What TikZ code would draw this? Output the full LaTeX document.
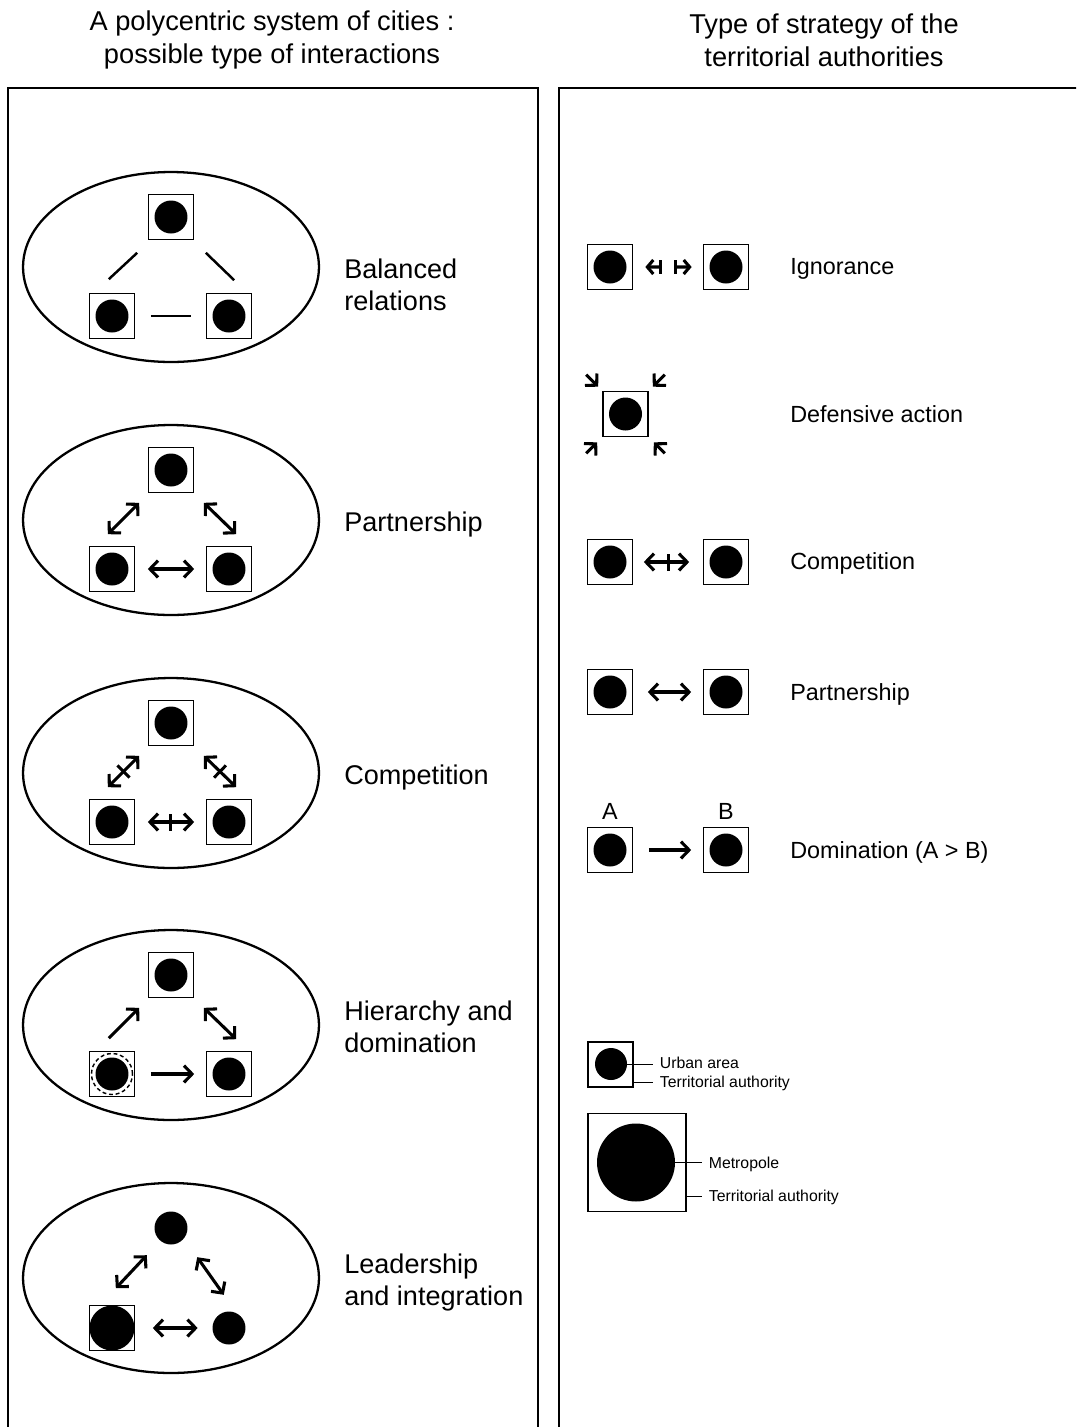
\documentclass[tikz,border=0pt]{standalone}
\usepackage{fontspec}
\setmainfont{Liberation Sans}
\usepackage{tikz}
\usetikzlibrary{arrows.meta, positioning, shapes.geometric, calc}

\newcommand{\titlefont}{\fontsize{15.5}{18.7}\selectfont}
\newcommand{\labelfont}{\fontsize{15.4}{18.2}\selectfont}
\newcommand{\rowfont}{\fontsize{13.3}{16}\selectfont}
\newcommand{\keyfont}{\fontsize{9}{11}\selectfont}

\begin{document}
\begin{tikzpicture}[x=0.02cm, y=-0.02cm,
    >={Straight Barb[length=4.6pt, width=9.6pt]},
    panel/.style={line width=0.8pt},
    region/.style={ellipse, draw, line width=1.3pt, minimum width=5.92cm,
      minimum height=3.8cm, inner sep=0pt},
    ta/.style={draw, line width=0.95pt, minimum size=0.9cm, inner sep=0pt},
    ua/.style={circle, fill, minimum size=0.66cm, inner sep=0pt},
    link/.style={line width=1.75pt},
    crossbar/.style={sloped, fill, inner sep=0pt, minimum width=1.7pt,
      minimum height=0.34cm},
    head/.style={font=\titlefont, align=center},
    lbl/.style={font=\labelfont, align=left, inner sep=0pt},
    rlbl/.style={font=\rowfont, inner sep=0pt, anchor=base west},
    key/.style={font=\keyfont, inner xsep=0.13cm, inner ysep=0pt,
      text height=6.5pt, text depth=0pt, anchor=west}]
        \useasboundingbox (0,0) rectangle (1076,1427);
        \clip (0,0) rectangle (1076,1427);
        % Headings
        \node[head] (h1) at (272,40)
          {A polycentric system of cities :\\possible type of interactions};
        \node[head] (h2) at (824,40)
          {Type of strategy of the\\territorial authorities};
        % Panels (open at the bottom)
        \draw[panel] (8,1440) |- (538,88) -- (538,1440);
        \draw[panel] (559,1440) |- (1090,88);

        % Systems of three cities
        \foreach \i/\y in {1/267, 2/520, 3/773, 4/1025} {
          \node[region] (e\i) at (171,\y) {};
          \node[ta] (t\i) at (171,\y-50) {};
          \node[ta] (l\i) at (112,\y+49) {};
          \node[ta] (r\i) at (229,\y+49) {};
          \node[ua] (tc\i) at (t\i) {};
          \node[ua] (lc\i) at (l\i) {};
          \node[ua] (rc\i) at (r\i) {};
        }
        % Balanced relations
        \draw[link, line width=1.4pt] ([shift={(-26.5,-13.5)}]l1.north east)
          -- ([shift={(-10.5,12.5)}]t1.south west);
        \draw[link, line width=1.4pt] ([shift={(11.5,12.5)}]t1.south east)
          -- ([shift={(28.5,-12.5)}]r1.north west);
        \draw[link, line width=1.4pt, shorten <=0.31cm, shorten >=0.29cm] (l1) -- (r1);
        \node[lbl, anchor=west] (n1) at (344,285) {Balanced\\relations};
        % Partnership
        \draw[link, <->] ([shift={(-27.5,-11.5)}]l2.north east)
          -- ([shift={(-8.5,9.5)}]t2.south west);
        \draw[link, <->] ([shift={(9.5,9.5)}]t2.south east)
          -- ([shift={(30.5,-11.5)}]r2.north west);
        \draw[link, <->, shorten <=0.25cm, shorten >=0.23cm] (l2) -- (r2);
        \node[lbl, anchor=base west] (n2) at (344,531) {Partnership};
        % Competition
        \draw[link, <->] ([shift={(-27.5,-11.5)}]l3.north east)
          -- node[crossbar] (x3l) {} ([shift={(-8.5,9.5)}]t3.south west);
        \draw[link, <->] ([shift={(9.5,9.5)}]t3.south east)
          -- node[crossbar] (x3r) {} ([shift={(30.5,-11.5)}]r3.north west);
        \draw[link, <->, shorten <=0.25cm, shorten >=0.23cm] (l3)
          -- node[crossbar] (x3h) {} (r3);
        \node[lbl, anchor=base west] (n3) at (344,784) {Competition};
        % Hierarchy and domination
        \node[circle, draw, line width=0.8pt, dash pattern=on 2.2pt off 1.6pt,
          minimum size=0.82cm, inner sep=0pt] (lr4) at (l4) {};
        \draw[link, ->] ([shift={(-26.5,-12.5)}]l4.north east)
          -- ([shift={(-8.5,9.5)}]t4.south west);
        \draw[link, <->] ([shift={(9.5,9.5)}]t4.south east)
          -- ([shift={(30.5,-11.5)}]r4.north west);
        \draw[link, ->, shorten <=0.31cm, shorten >=0.23cm] (l4) -- (r4);
        \node[lbl, anchor=west] (n4) at (344,1027) {Hierarchy and\\domination};
        % Leadership and integration
        \node[region] (e5) at (171,1278) {};
        \node[ua] (tc5) at (171,1228) {};
        \node[ta] (l5) at (112,1328) {};
        \node[ua, minimum size=0.9cm] (lc5) at (l5) {};
        \node[ua] (rc5) at (229,1328) {};
        \draw[link, <->] ([shift={(-19.5,-16.5)}]l5.north east)
          -- ([shift={(-12.3,15.3)}]tc5.south west);
        \draw[link, <->] ([shift={(14.3,17.3)}]tc5.south east)
          -- ([shift={(6.7,-21.3)}]rc5.north west);
        \draw[link, <->, shorten <=0.35cm, shorten >=0.29cm] (l5) -- (rc5);
        \node[lbl, anchor=west] (n5) at (344,1282) {Leadership\\and integration};

        % Ignorance
        \node[ta] (i1) at (610,267) {};
        \node[ta] (i2) at (726,267) {};
        \node[ua] (ic1) at (i1) {};
        \node[ua] (ic2) at (i2) {};
        \coordinate (ig) at ($(i1)!0.5!(i2)$);
        \draw[link, {Straight Barb[length=3.4pt, width=8pt]}-{Bar[width=0.27cm]},
          shorten <=0.24cm, shorten >=0.12cm] (i1.east) -- (ig);
        \draw[link, {Bar[width=0.27cm]}-{Straight Barb[length=3.4pt, width=8pt]},
          shorten <=0.12cm, shorten >=0.22cm] (ig) -- (i2.west);
        \node[rlbl] (s1) at (790,274.5) {Ignorance};
        % Defensive action
        \node[ta] (d1) at (625.5,414) {};
        \node[ua] (dc1) at (d1) {};
        \draw[link, ->] ([shift={(-16,-16)}]d1.north west)
          -- ([shift={(-4,-4)}]d1.north west);
        \draw[link, ->] ([shift={(16,-16)}]d1.north east)
          -- ([shift={(4,-4)}]d1.north east);
        \draw[link, ->] ([shift={(-16,16)}]d1.south west)
          -- ([shift={(-5,5)}]d1.south west);
        \draw[link, ->] ([shift={(16,16)}]d1.south east)
          -- ([shift={(5,5)}]d1.south east);
        \node[rlbl] (s2) at (790,422) {Defensive action};
        % Competition
        \node[ta] (c1) at (610,562) {};
        \node[ta] (c2) at (726,562) {};
        \node[ua] (cc1) at (c1) {};
        \node[ua] (cc2) at (c2) {};
        \draw[link, <->, shorten <=0.21cm, shorten >=0.27cm] (c1)
          -- node[crossbar] (cx) {} (c2);
        \node[rlbl] (s3) at (790,569.5) {Competition};
        % Partnership
        \node[ta] (p1) at (610,692) {};
        \node[ta] (p2) at (726,692) {};
        \node[ua] (pc1) at (p1) {};
        \node[ua] (pc2) at (p2) {};
        \draw[link, <->, shorten <=0.29cm, shorten >=0.23cm] (p1) -- (p2);
        \node[rlbl] (s4) at (790,700) {Partnership};
        % Domination
        \node[ta] (m1) at (610,850) {};
        \node[ta] (m2) at (726,850) {};
        \node[ua] (mc1) at (m1) {};
        \node[ua] (mc2) at (m2) {};
        \node[font=\rowfont, inner sep=0pt, above=0.14cm of m1] (ma) {A};
        \node[font=\rowfont, inner sep=0pt, above=0.14cm of m2] (mb) {B};
        \draw[link, ->, shorten <=0.31cm, shorten >=0.23cm] (m1) -- (m2);
        \node[rlbl] (s5) at (790,858.5) {Domination (A > B)};

        % Legend
        \node[ta] (ks) at (610.5,1064.5) {};
        \node[ua, minimum size=0.64cm] (kc) at (611,1064) {};
        \node[key] (ku) at (653,1063) {Urban area};
        \node[key] (kt) at (653,1082) {Territorial authority};
        \draw (kc.east) -- (kc.east -| ku.west);
        \draw (ks.east |- kt.west) -- (kt.west);
        \node[ta, minimum size=1.96cm] (kb) at (637,1162.5) {};
        \node[ua, minimum size=1.56cm] (kbc) at (636,1162.5) {};
        \node[key] (km) at (702,1163) {Metropole};
        \node[key] (kt2) at (702,1196) {Territorial authority};
        \draw (kbc.east) -- (kbc.east -| km.west);
        \draw (kb.east |- kt2.west) -- (kt2.west);
      \end{tikzpicture}
\end{document}
